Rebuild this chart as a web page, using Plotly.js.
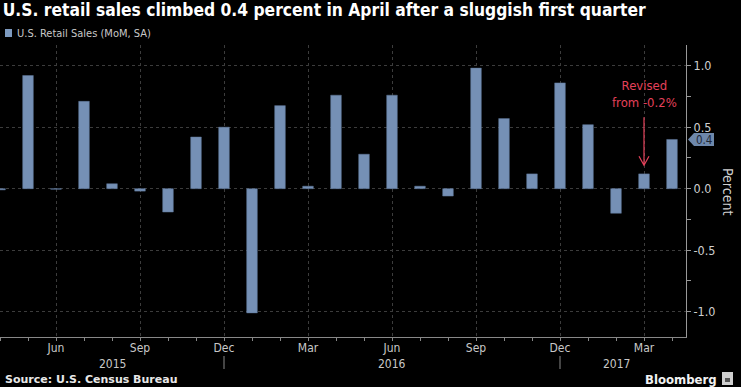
<!DOCTYPE html>
<html>
<head>
<meta charset="utf-8">
<script src="https://cdn.plot.ly/plotly-3.0.1.min.js"></script>
<style>html,body{margin:0;padding:0;background:#000;}#chart{width:741px;height:387px;}</style>
</head>
<body>
<div id="chart"></div>
<script>
// Months from Apr 2015 to Apr 2017
const months = ['2015-04','2015-05','2015-06','2015-07','2015-08','2015-09','2015-10','2015-11','2015-12',
  '2016-01','2016-02','2016-03','2016-04','2016-05','2016-06','2016-07','2016-08','2016-09','2016-10','2016-11','2016-12',
  '2017-01','2017-02','2017-03','2017-04'];
const retailSales = [-0.01, 0.92, -0.005, 0.71, 0.04, -0.02, -0.19, 0.42, 0.50,
  -1.01, 0.675, 0.02, 0.76, 0.28, 0.76, 0.02, -0.06, 0.98, 0.57, 0.12, 0.86,
  0.52, -0.20, 0.12, 0.40];
const tickMonths = ['2015-06','2015-09','2015-12','2016-03','2016-06','2016-09','2016-12','2017-03'];
const tickLabels = ['Jun','Sep','Dec','Mar','Jun','Sep','Dec','Mar'];
const yearLabels = ['2015','2016','2017'];
const yearMonths = ['2015-08','2016-06','2017-02'];
const yearSepMonths = ['2015-12','2016-12'];
const yTicks = [-1.0, -0.5, 0.0, 0.5, 1.0];
const yTickLabels = ['-1.0','-0.5','0.0','0.5','1.0'];

const idx = m => months.indexOf(m);
const xs = months.map((m, i) => i);
const lastVal = retailSales[retailSales.length - 1];
const revisedMonth = '2017-03';

const FONT = '"DejaVu Sans Condensed", "Liberation Sans Narrow", "DejaVu Sans", sans-serif';
const WIDEFONT = '"DejaVu Sans", sans-serif';
const barColor = '#7590b5';

const trace = {
  type: 'bar', x: xs, y: retailSales, width: 0.38,
  marker: {color: barColor, line: {color: '#5d7596', width: 0.5}},
  name: 'U.S. Retail Sales (MoM, SA)', showlegend: false, hoverinfo: 'skip'
};

const plotH = 292;
const py = px => (337 - px) / plotH; // pixel y -> paper y
const pxX = px => px / 686;

const shapes = [
  // legend swatch
  {type: 'rect', xref: 'paper', yref: 'paper', x0: pxX(5), x1: pxX(12), y0: py(37), y1: py(29),
   fillcolor: '#7e9bc0', line: {width: 0}},
  // last value tag
  {type: 'path', xref: 'paper', yref: 'y', xsizemode: 'pixel', ysizemode: 'pixel', xanchor: 1, yanchor: lastVal,
   path: 'M2,0 L8,-6.5 L28,-6.5 L28,6.5 L8,6.5 Z', fillcolor: '#6e88ab', line: {width: 0}},
  // revised arrow
  {type: 'path', xref: 'x', yref: 'y', xsizemode: 'pixel', ysizemode: 'pixel', xanchor: idx(revisedMonth), yanchor: 0.19,
   path: 'M0,0 L0,48 M-5,9 L0,0 L5,9', line: {color: '#e4415a', width: 1.2}},
  // Bloomberg icon
  {type: 'rect', xref: 'paper', yref: 'paper', x0: pxX(722), x1: pxX(733), y0: py(385), y1: py(372),
   fillcolor: '#cfcfcf', line: {width: 0}},
  {type: 'rect', xref: 'paper', yref: 'paper', x0: pxX(725), x1: pxX(730), y0: py(382), y1: py(378),
   fillcolor: '#555', line: {width: 0}}
];
yearSepMonths.forEach(m => shapes.push({type: 'line', xref: 'x', yref: 'paper', x0: idx(m), x1: idx(m),
  y0: py(356), y1: py(369), line: {color: '#888', width: 1}}));

const annotations = [
  {xref: 'paper', yref: 'paper', x: pxX(15), y: py(33), xanchor: 'left', yanchor: 'middle', showarrow: false,
   text: 'U.S. Retail Sales (MoM, SA)', font: {family: FONT, size: 11, color: '#c8c8c8'}},
  {xref: 'paper', yref: 'y', x: 1 + 18/686, y: lastVal, xanchor: 'center', yanchor: 'middle', showarrow: false,
   yshift: -1, text: String(lastVal.toFixed(1)), font: {family: FONT, size: 11.5, color: '#1d2736'}},
  {xref: 'x', yref: 'y', x: idx(revisedMonth), y: 0.77, xanchor: 'center', yanchor: 'middle', showarrow: false,
   text: 'Revised<br>from -0.2%', font: {family: FONT, size: 13, color: '#e4415a'}},
  {xref: 'paper', yref: 'paper', x: pxX(728), y: 0.5, xanchor: 'center', yanchor: 'middle', showarrow: false,
   text: 'Percent', textangle: 90, font: {family: FONT, size: 14, color: '#cfcfcf'}},
  {xref: 'paper', yref: 'paper', x: pxX(3), y: py(379), xanchor: 'left', yanchor: 'middle', showarrow: false,
   text: '<b>Source: U.S. Census Bureau</b>', font: {family: WIDEFONT, size: 11, color: '#e8e8e8'}},
  {xref: 'paper', yref: 'paper', x: pxX(719), y: py(379), xanchor: 'right', yanchor: 'middle', showarrow: false,
   text: '<b>Bloomberg</b>', font: {family: FONT, size: 13, color: '#f2f2f2'}}
];
yearLabels.forEach((t, i) => annotations.push({xref: 'x', yref: 'paper', x: idx(yearMonths[i]), y: py(364),
  xanchor: 'center', yanchor: 'middle', showarrow: false, text: t, font: {family: FONT, size: 12, color: '#c8c8c8'}}));

const layout = {
  width: 741, height: 387,
  paper_bgcolor: '#000', plot_bgcolor: '#000',
  margin: {l: 0, r: 55, t: 45, b: 50},
  title: {text: '<b>U.S. retail sales climbed 0.4 percent in April after a sluggish first quarter</b>',
    x: 0.004, xanchor: 'left', xref: 'paper', y: 1 - 10/387, yref: 'container', yanchor: 'middle',
    font: {family: FONT, size: 17.3, color: '#ffffff'}},
  showlegend: false,
  bargap: 0,
  xaxis: {type: 'linear', range: [0, 24.5], tickmode: 'array', tickvals: tickMonths.map(idx), ticktext: tickLabels,
    showgrid: true, gridcolor: '#3c3c3c', griddash: 'dot', gridwidth: 1,
    ticks: 'outside', ticklen: 3, tickcolor: '#888', showline: true, linecolor: '#888', linewidth: 1,
    ticklabelstandoff: -3,
    zeroline: false, tickfont: {family: FONT, size: 12, color: '#c8c8c8'},
    minor: {tick0: 0, dtick: 1, ticks: 'outside', ticklen: 3, tickcolor: '#888', showgrid: false},
    fixedrange: true},
  yaxis: {side: 'right', range: [-1.206, 1.168], tickmode: 'array', tickvals: yTicks, ticktext: yTickLabels,
    showgrid: true, gridcolor: '#3c3c3c', griddash: 'dot', gridwidth: 1, zeroline: false,
    ticks: 'outside', ticklen: 4, tickcolor: '#999', showline: true, linecolor: '#999', linewidth: 1,
    tickfont: {family: FONT, size: 12.5, color: '#cfcfcf'},
    minor: {tick0: 0, dtick: 0.25, ticks: 'outside', ticklen: 4, tickcolor: '#999', showgrid: false},
    fixedrange: true},
  shapes: shapes,
  annotations: annotations
};

Plotly.newPlot('chart', [trace], layout, {displayModeBar: false, staticPlot: true});
</script>
</body>
</html>
